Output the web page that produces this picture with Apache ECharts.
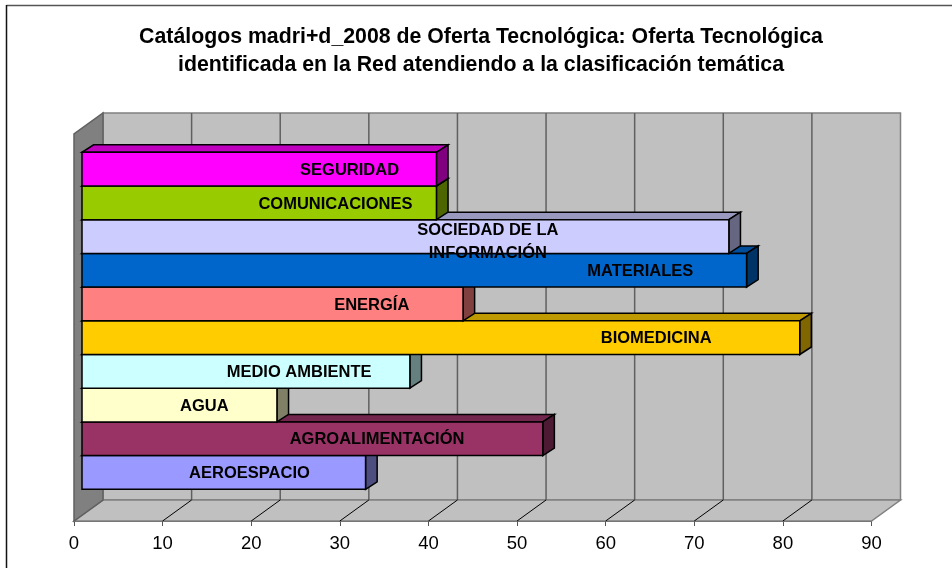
<!DOCTYPE html>
<html><head><meta charset="utf-8">
<style>html,body{margin:0;padding:0;background:#fff}#c{width:952px;height:568px}</style>
<script src="https://cdn.jsdelivr.net/npm/echarts@6/dist/echarts.min.js"></script>
</head><body><div id="c"></div>
<script>
// Data (top to bottom as in the picture)
const categories = ['SEGURIDAD','COMUNICACIONES','SOCIEDAD DE LA\nINFORMACIÓN','MATERIALES','ENERGÍA','BIOMEDICINA','MEDIO AMBIENTE','AGUA','AGROALIMENTACIÓN','AEROESPACIO'];
const values = [40,40,73,75,43,81,37,22,52,32];
const ticks = [0,10,20,30,40,50,60,70,80,90];
const titleLines = 'Catálogos madri+d_2008 de Oferta Tecnológica: Oferta Tecnológica\nidentificada en la Red atendiendo a la clasificación temática';
// Styles
const colors = ['#FF00FF','#99CC00','#CCCCFF','#0066CC','#FF8080','#FFCC00','#CCFFFF','#FFFFCC','#993366','#9999FF'];
const labelAnchors = [30.2,28.6,45.8,63,32.7,64.8,24.5,13.8,33.3,18.9];

const FONT = '"Liberation Sans", Arial, sans-serif';
const WALL_DX = 29, WALL_DY = -21;     // depth of the plot box
const BAR_DX = 11.6, BAR_DY = -7.5;    // depth of each bar
const scale = (hex, f) => {
  const n = parseInt(hex.slice(1), 16);
  return 'rgb(' + [(n>>16)&255,(n>>8)&255,n&255].map(v => Math.round(v*f)).join(',') + ')';
};
const poly = (pts, fill, stroke, lw) => ({type:'polygon', shape:{points:pts}, style:{fill, stroke, lineWidth:lw}});
const line = (a, b, stroke, lw) => ({type:'line', shape:{x1:a[0],y1:a[1],x2:b[0],y2:b[1]}, style:{stroke, lineWidth:lw}});

const chart = echarts.init(document.getElementById('c'), null, {renderer:'canvas'});
chart.setOption({
  animation:false,
  backgroundColor:'#fff',
  graphic:[
    {type:'line', z:0, shape:{x1:6.5,y1:5.5,x2:952,y2:5.5}, style:{stroke:'#555',lineWidth:1.5}},
    {type:'line', z:0, shape:{x1:6.5,y1:5,x2:6.5,y2:568}, style:{stroke:'#111',lineWidth:1.5}}
  ],
  title:{text:titleLines, left:476, top:18, textAlign:'center',
    textStyle:{fontFamily:FONT,fontSize:21.3,fontWeight:'bold',color:'#000',lineHeight:28}},
  grid:[
    {left:74, top:134, width:797.5, height:387},   // front plane of the plot box
    {left:82, top:152.3, width:797.5, height:337}  // front plane of the bars
  ],
  xAxis:[
    {gridIndex:0, type:'value', min:0, max:90, interval:10, splitLine:{show:false},
     axisLine:{show:true,onZero:false,lineStyle:{color:'#222',width:1.5}},
     axisTick:{show:true,length:5,lineStyle:{color:'#555',width:1}},
     axisLabel:{color:'#000',fontFamily:FONT,fontSize:18.5,margin:13,customValues:ticks}},
    {gridIndex:1, type:'value', min:0, max:90, show:false}
  ],
  yAxis:[
    {gridIndex:0, type:'value', min:0, max:1, show:false},
    {gridIndex:1, type:'category', inverse:true, data:categories, show:false}
  ],
  series:[
    { // walls and floor of the box
      type:'custom', xAxisIndex:0, yAxisIndex:0, z:1, silent:true, data:[[0,0]],
      renderItem(p, api){
        const a = api.coord([0,0]), b = api.coord([90,0]), c = api.coord([0,1]);
        const off = q => [q[0]+WALL_DX, q[1]+WALL_DY];
        const d = [b[0], c[1]];
        return {type:'group', children:[
          poly([off(c),off(d),off(b),off(a)], '#C0C0C0', '#808080', 1.5),
          poly([a,b,off(b),off(a)], '#C0C0C0', '#808080', 1.5),
          poly([a,c,off(c),off(a)], '#808080', '#606060', 1.5)
        ]};
      }
    },
    { // grid lines on back wall and floor
      type:'custom', xAxisIndex:0, yAxisIndex:0, z:2, silent:true,
      data:ticks.slice(1,-1).map(t => [t]),
      renderItem(p, api){
        const a = api.coord([api.value(0),0]), c = api.coord([api.value(0),1]);
        const off = q => [q[0]+WALL_DX, q[1]+WALL_DY];
        return {type:'group', children:[
          line(off(a), off(c), '#606060', 1.5),
          line(a, off(a), '#000', 1)
        ]};
      }
    },
    { // bars, drawn from the bottom one up
      type:'custom', xAxisIndex:1, yAxisIndex:1, z:3, silent:true,
      data:values.map((v,i) => [v,i]).reverse(),
      renderItem(p, api){
        const v = api.value(0), i = api.value(1);
        const sz = api.size([0,1])[1];
        const end = api.coord([v,i]), base = api.coord([0,i]);
        const t = end[1]-sz/2, b = end[1]+sz/2, x0 = base[0], x1 = end[0];
        const col = colors[i];
        const stroke = '#000', lw = 1.5;
        return {type:'group', children:[
          poly([[x0,t],[x1,t],[x1+BAR_DX,t+BAR_DY],[x0+BAR_DX,t+BAR_DY]], scale(col,.75), stroke, lw),
          poly([[x1,t],[x1+BAR_DX,t+BAR_DY],[x1+BAR_DX,b+BAR_DY],[x1,b]], scale(col,.5), stroke, lw),
          poly([[x0,t],[x1,t],[x1,b],[x0,b]], col, stroke, lw)
        ]};
      }
    },
    { // labels on top of everything
      type:'custom', xAxisIndex:1, yAxisIndex:1, z:4, silent:true,
      data:labelAnchors.map((v,i) => [v,i]),
      renderItem(p, api){
        const i = api.value(1), q = api.coord([api.value(0),i]);
        const multi = categories[i].indexOf('\n') >= 0;
        return {type:'text', style:{x:q[0], y:q[1]+(multi?5:1.2), text:categories[i], align:'center', verticalAlign:'middle',
          fill:'#000', font:'bold 16.5px '+FONT, lineHeight:23}};
      }
    }
  ]
});
</script></body></html>
